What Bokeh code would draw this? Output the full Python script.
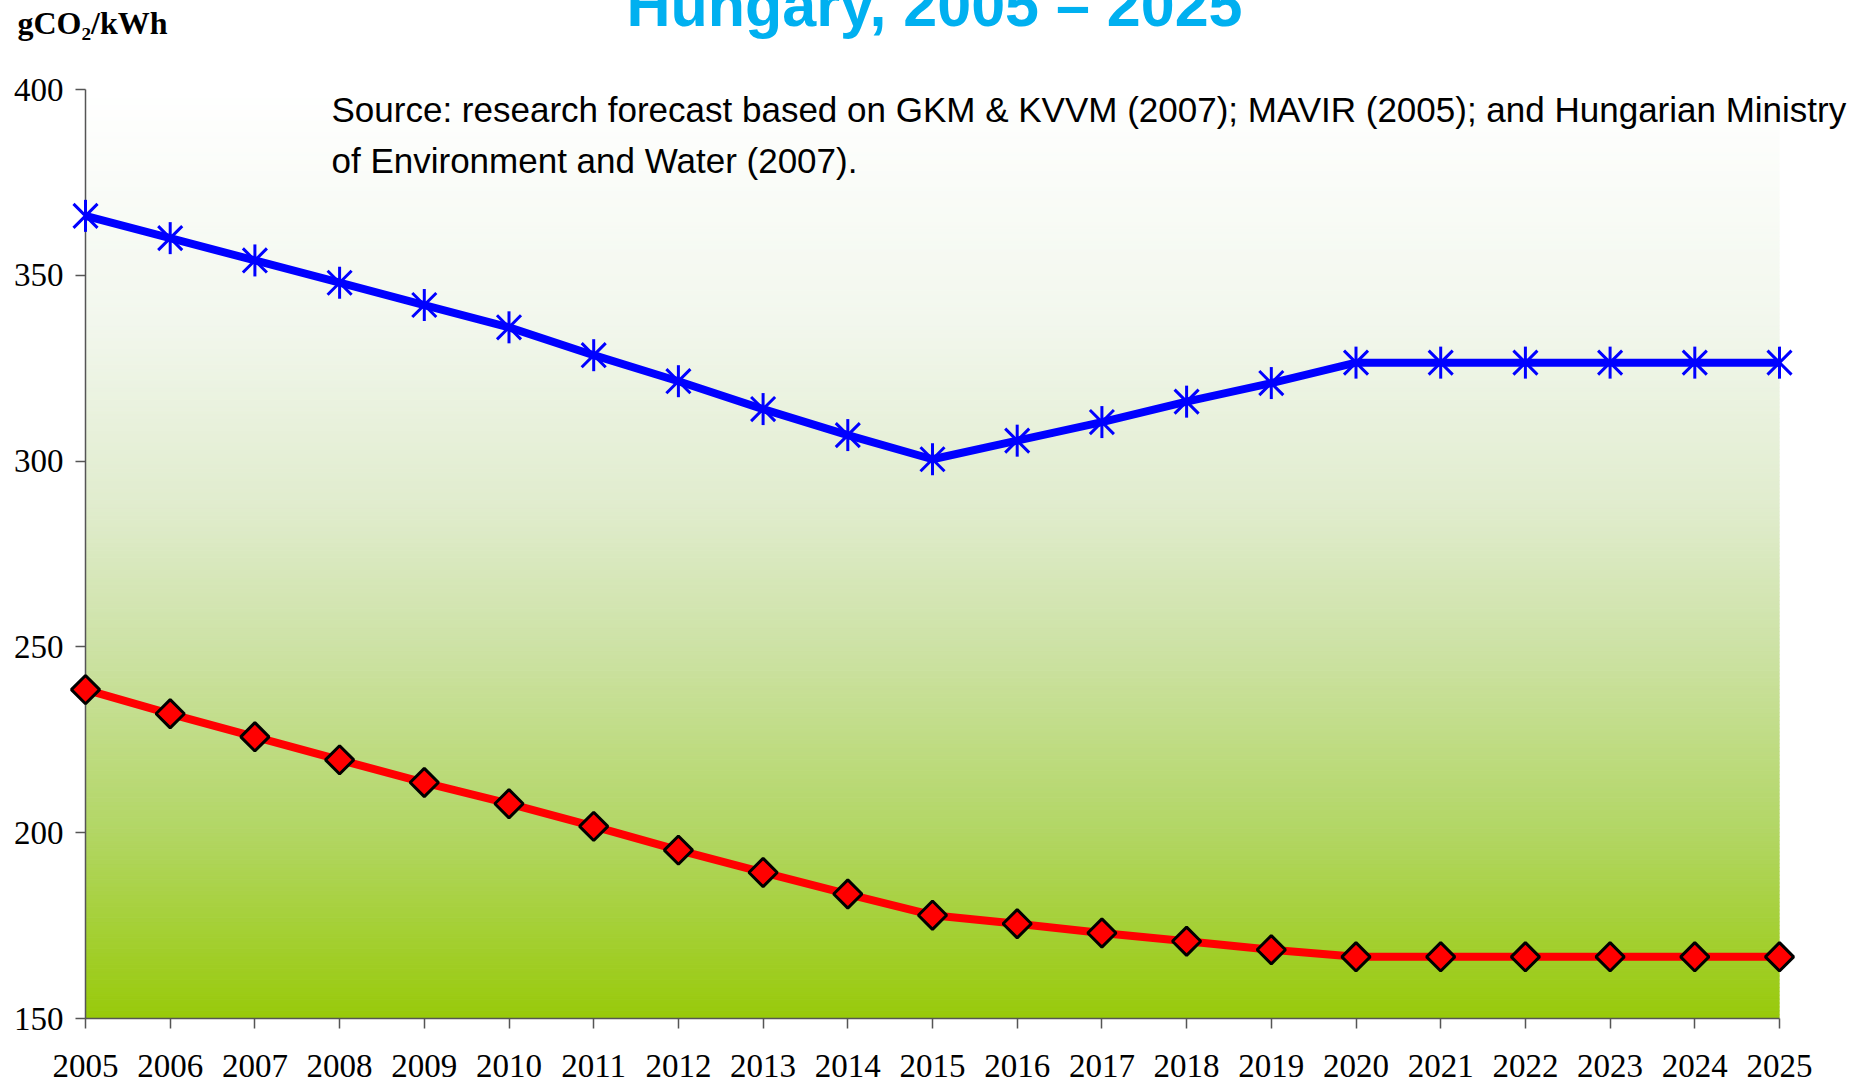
import numpy as np
from bokeh.plotting import figure
from bokeh.models import Range1d, FixedTicker
from bokeh.core.properties import value
from bokeh.embed import file_html
from bokeh.resources import INLINE

# ---------------- data ----------------
years = list(range(2005, 2026))
blue_values = [366, 360, 354, 348, 342, 336, 328.5, 321.5, 314, 307, 300.5,
               305.5, 310.5, 316, 321, 326.5, 326.5, 326.5, 326.5, 326.5, 326.5]
red_values = [238.5, 232, 225.8, 219.6, 213.5, 207.8, 201.7, 195.3, 189.3, 183.5, 177.8,
              175.5, 173, 170.8, 168.5, 166.6, 166.6, 166.6, 166.6, 166.6, 166.6]
y_ticks = [150, 200, 250, 300, 350, 400]
x_ticks = years
title_text = "Hungary, 2005 \u2013 2025"
unit_text = "gCO\u2082/kWh"
source_lines = [
    "Source: research forecast based on GKM & KVVM (2007); MAVIR (2005); and Hungarian Ministry",
    "of Environment and Water (2007).",
]

Y_MIN, Y_MAX = y_ticks[0], y_ticks[-1]
X_MIN, X_MAX = years[0], years[-1]

# background gradient stops (fraction from top, rgb)
grad_t = [0.0, 0.25, 0.45, 0.6, 0.8, 1.0]
grad_r = [255, 242, 224, 205, 178, 152]
grad_g = [255, 247, 236, 226, 214, 202]
grad_b = [255, 237, 205, 165, 100, 10]

p = figure(width=1860, height=1086,
           x_range=Range1d(X_MIN, X_MAX), y_range=Range1d(Y_MIN, Y_MAX),
           output_backend="svg", toolbar_location=None,
           min_border_left=85, min_border_right=81,
           min_border_top=89, min_border_bottom=68)
p.outline_line_color = None
p.background_fill_color = "white"
p.border_fill_color = "white"
p.xgrid.grid_line_color = None
p.ygrid.grid_line_color = None

# gradient strips
N = 240
edges = np.linspace(Y_MIN, Y_MAX, N + 1)
tcen = 1.0 - ((edges[:-1] + edges[1:]) / 2 - Y_MIN) / (Y_MAX - Y_MIN)
cols = []
for t in tcen:
    r = int(round(np.interp(t, grad_t, grad_r)))
    g = int(round(np.interp(t, grad_t, grad_g)))
    b = int(round(np.interp(t, grad_t, grad_b)))
    cols.append("#%02x%02x%02x" % (r, g, b))
p.quad(left=X_MIN, right=X_MAX, bottom=edges[:-1], top=edges[1:],
       fill_color=cols, line_color=cols, line_width=1)

# series (overlay level so edge markers are not clipped)
p.line(years, blue_values, line_width=8, line_color="#0000FF", level="overlay")
p.scatter(years, blue_values, marker="x", size=34, line_color="#0000FF", line_width=3,
          level="overlay")
p.scatter(years, blue_values, marker="dash", angle=np.pi / 2, size=32,
          line_color="#0000FF", line_width=3, level="overlay")

p.line(years, red_values, line_width=8, line_color="#FF0000", level="overlay")
p.scatter(years, red_values, marker="square", angle=np.pi / 4, size=20,
          fill_color="#FF0000", line_color="black", line_width=3, level="overlay")

# axes
for ax in (p.xaxis[0], p.yaxis[0]):
    ax.axis_line_color = "#555555"
    ax.axis_line_width = 1.5
    ax.major_tick_line_color = "#555555"
    ax.major_tick_line_width = 1.5
    ax.major_tick_out = 10
    ax.major_tick_in = 0
    ax.minor_tick_out = 0
    ax.minor_tick_in = 0
    ax.major_label_text_font = "Liberation Serif"
    ax.major_label_text_font_size = "33px"
    ax.major_label_text_color = "black"

p.xaxis.ticker = FixedTicker(ticks=x_ticks)
p.yaxis.ticker = FixedTicker(ticks=y_ticks)
p.xaxis.major_label_standoff = 26
p.yaxis.major_label_standoff = 12

# texts anchored at the top-left corner of the plot area, offset in pixels
p.text(x=[X_MIN], y=[Y_MAX], text=[unit_text], x_offset=-68, y_offset=-67,
       text_font=value("Liberation Serif"), text_font_style="bold",
       text_font_size="32px", text_color="black",
       text_baseline="alphabetic", text_align="left", level="overlay")

p.text(x=[X_MIN], y=[Y_MAX], text=[title_text], x_offset=541, y_offset=-85,
       text_font=value("Liberation Sans"), text_font_style="bold",
       text_font_size="61px", text_color="#00B0F0",
       text_baseline="alphabetic", text_align="left", level="overlay")

for i, line in enumerate(source_lines):
    p.text(x=[X_MIN], y=[Y_MAX], text=[line], x_offset=246, y_offset=20 + 51 * i,
           text_font=value("Liberation Sans"), text_font_size="35px", text_color="black",
           text_baseline="alphabetic", text_align="left", level="overlay")

open("out.html", "w").write(file_html(p, INLINE))
